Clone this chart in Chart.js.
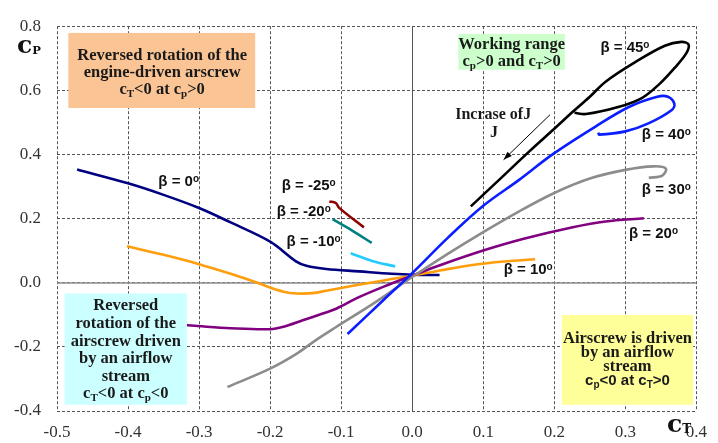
<!DOCTYPE html>
<html><head><meta charset="utf-8">
<script src="https://cdn.jsdelivr.net/npm/chart.js@4.4.0/dist/chart.umd.min.js"></script>
<style>html,body{margin:0;padding:0;background:#fff;overflow:hidden}</style>
</head><body>
<canvas id="c" width="718" height="443"></canvas>
<script>
// ---- axis ticks ----
const xTicks = [-0.5, -0.4, -0.3, -0.2, -0.1, 0.0, 0.1, 0.2, 0.3, 0.4];
const xTickLabels = ['-0.5','-0.4','-0.3','-0.2','-0.1','0.0','0.1','0.2','0.3','0.4'];
const yTicks = [-0.4, -0.2, 0.0, 0.2, 0.4, 0.6, 0.8];
const yTickLabels = ['-0.4','-0.2','0.0','0.2','0.4','0.6','0.8'];

// ---- series (cT = x, cP = y) ----
const ct_b45 = [0.0825, 0.12, 0.166, 0.2, 0.226, 0.25, 0.2722, 0.3139, 0.3556, 0.3788, 0.389, 0.3857, 0.3694, 0.3486, 0.3232, 0.29, 0.2444, 0.2284];
const cp_b45 = [0.238, 0.316, 0.412, 0.48, 0.533, 0.58, 0.627, 0.688, 0.739, 0.751, 0.743, 0.715, 0.670, 0.621, 0.576, 0.548, 0.526, 0.530];

const ct_b40 = [-0.091, -0.04, 0.0, 0.05, 0.1, 0.15, 0.198, 0.258, 0.305, 0.345, 0.36, 0.369, 0.365, 0.3325, 0.3, 0.263, 0.262];
const cp_b40 = [-0.16, -0.053, 0.03, 0.14, 0.24, 0.32, 0.401, 0.487, 0.548, 0.58, 0.58, 0.558, 0.538, 0.497, 0.472, 0.462, 0.468];

const ct_b30 = [-0.26, -0.2, -0.163, -0.135, -0.107, -0.05, 0.0, 0.05, 0.1, 0.15, 0.2, 0.25, 0.3, 0.34, 0.357, 0.352, 0.333];
const cp_b30 = [-0.325, -0.268, -0.222, -0.178, -0.138, -0.058, 0.018, 0.09, 0.158, 0.222, 0.28, 0.325, 0.352, 0.363, 0.356, 0.334, 0.327];

const ct_b20 = [-0.33, -0.3018, -0.2556, -0.2, -0.181, -0.154, -0.126, -0.107, -0.075, -0.04, 0.0, 0.041, 0.101, 0.157, 0.226, 0.272, 0.326];
const cp_b20 = [-0.130, -0.135, -0.142, -0.145, -0.137, -0.117, -0.096, -0.081, -0.045, -0.012, 0.022, 0.056, 0.101, 0.137, 0.173, 0.191, 0.201];

const ct_b10 = [-0.4015, -0.35, -0.3, -0.2556, -0.218, -0.2, -0.181, -0.163, -0.14, -0.121, -0.0796, -0.038, 0.0, 0.041, 0.087, 0.129, 0.173];
const cp_b10 = [0.1136, 0.087, 0.058, 0.028, 0.0, -0.015, -0.028, -0.0335, -0.0325, -0.025, -0.008, 0.008, 0.022, 0.039, 0.056, 0.066, 0.073];

const ct_b0 = [-0.4717, -0.4, -0.35, -0.3, -0.2556, -0.2, -0.163, -0.149, -0.121, -0.075, -0.0286, 0.0, 0.0385];
const cp_b0 = [0.353, 0.31, 0.274, 0.233, 0.188, 0.128, 0.066, 0.053, 0.043, 0.0355, 0.028, 0.025, 0.024];

const ct_bm10 = [-0.0865, -0.0564, -0.024];
const cp_bm10 = [0.092, 0.068, 0.051];

const ct_bm20 = [-0.112, -0.084, -0.057];
const cp_bm20 = [0.198, 0.162, 0.124];

const ct_bm25 = [-0.1167, -0.1075, -0.1028, -0.068];
const cp_bm25 = [0.2536, 0.2487, 0.2335, 0.1726];

const seriesNames = ['β = 45', 'β = 40', 'β = 30', 'β = 20', 'β = 10', 'β = 0', 'β = -10', 'β = -20', 'β = -25'];
const seriesX = [ct_b45, ct_b40, ct_b30, ct_b20, ct_b10, ct_b0, ct_bm10, ct_bm20, ct_bm25];
const seriesY = [cp_b45, cp_b40, cp_b30, cp_b20, cp_b10, cp_b0, cp_bm10, cp_bm20, cp_bm25];

// ---- styles ----
const seriesColors = ['#000000', '#0A1EFF', '#8C8C8C', '#800080', '#FF9E0D', '#000080', '#22CCFF', '#008080', '#8B0000'];
// label anchor (data coords, left edge / vertical centre)
const labelPos = [[0.2649, 0.7367], [0.3232, 0.4658], [0.3232, 0.2953], [0.3051, 0.1553], [0.1287, 0.0457],
                  [-0.3574, 0.3196], [-0.1768, 0.1309], [-0.1907, 0.2253], [-0.1838, 0.3075]];

const boxes = [
  {x1:-0.484, x2:-0.221, y1:0.779, y2:0.545, fill:'#FAC495', cx:-0.352,
   lines:['Reversed rotation of the','engine-driven arscrew','c_T<0 at c_p>0'], ys:[0.709,0.658,0.603]},
  {x1:0.0649, x2:0.2149, y1:0.776, y2:0.664, fill:'#CCFFCC', cx:0.140,
   lines:['Working range','c_p>0 and c_T>0'], ys:[0.746,0.691]},
  {x1:-0.4893, x2:-0.3171, y1:-0.0335, y2:-0.3805, fill:'#CCFFFF', cx:-0.4032,
   lines:['Reversed','rotation of the','airscrew driven','by an airflow','stream','c_T<0 at c_p<0'], ys:[-0.070,-0.126,-0.181,-0.236,-0.291,-0.344]},
  {x1:0.2107, x2:0.3954, y1:-0.1005, y2:-0.3805, fill:'#FFFF99', cx:0.303,
   lines:['Airscrew is driven','by an airflow','stream','c_p<0 at c_T>0'], ys:[-0.1735,-0.216,-0.259,-0.304]}
];

const SERIF = '"Liberation Serif", "DejaVu Serif", serif';
const SANS = '"Liberation Sans", Arial, sans-serif';

function parseRich(str){
  const segs = [];
  let buf = '';
  for (let i = 0; i < str.length; i++){
    const ch = str[i];
    if ((ch === '_' || ch === '^') && i + 1 < str.length){
      if (buf) { segs.push({t:buf, m:0}); buf=''; }
      segs.push({t:str[i+1], m: ch === '_' ? 1 : 2});
      i++;
    } else buf += ch;
  }
  if (buf) segs.push({t:buf, m:0});
  return segs;
}
function drawRich(ctx, str, x, yBase, align, mainFont, subFont, supFont, subDy, supDy){
  const segs = parseRich(str);
  let w = 0;
  segs.forEach(s => { ctx.font = s.m===0 ? mainFont : (s.m===1 ? subFont : supFont); s.w = ctx.measureText(s.t).width; w += s.w; });
  let sx = align === 'center' ? x - w/2 : x;
  ctx.textAlign = 'left';
  ctx.textBaseline = 'alphabetic';
  segs.forEach(s => {
    ctx.font = s.m===0 ? mainFont : (s.m===1 ? subFont : supFont);
    const dy = s.m===1 ? subDy : (s.m===2 ? supDy : 0);
    ctx.fillText(s.t, sx, yBase + dy);
    sx += s.w;
  });
}

const annotPlugin = {
  id: 'annot',
  beforeDatasetsDraw(chart){
    const {ctx, chartArea:a, scales:{x, y}} = chart;
    ctx.save();
    ctx.setLineDash([]);
    ctx.strokeStyle = '#8f8f8f'; ctx.lineWidth = 1.6;
    const y0 = Math.round(y.getPixelForValue(0)) + 0.0;
    ctx.beginPath(); ctx.moveTo(a.left, y0); ctx.lineTo(a.right, y0); ctx.stroke();
    ctx.strokeStyle = '#555'; ctx.lineWidth = 1;
    const x0 = Math.round(x.getPixelForValue(0)) + 0.5;
    ctx.beginPath(); ctx.moveTo(x0, a.top); ctx.lineTo(x0, a.bottom); ctx.stroke();
    ctx.restore();
  },
  afterDatasetsDraw(chart){
    const {ctx, scales:{x, y}} = chart;
    const px = v => x.getPixelForValue(v), py = v => y.getPixelForValue(v);
    ctx.save();
    // boxes
    boxes.forEach((b, bi) => {
      ctx.fillStyle = b.fill;
      ctx.fillRect(px(b.x1), py(b.y1), px(b.x2) - px(b.x1), py(b.y2) - py(b.y1));
      ctx.fillStyle = '#1a1a1a';
      b.lines.forEach((ln, i) => {
        const isSans = (bi === 3 && i === 3);
        const mf = isSans ? 'bold 15px ' + SANS : 'bold 16.5px ' + SERIF;
        const sf = isSans ? 'bold 10px ' + SANS : 'bold 11px ' + SERIF;
        drawRich(ctx, ln, px(b.cx), py(b.ys[i]) + 5, 'center', mf, sf, sf, 3, -6);
      });
    });
    // increase of J text
    ctx.fillStyle = '#1a1a1a';
    drawRich(ctx, 'Incrase ofJ', px(0.114), py(0.527) + 5, 'center', 'bold 16px ' + SERIF, '', '', 0, 0);
    drawRich(ctx, 'J', px(0.115), py(0.469) + 5, 'center', 'bold 16px ' + SERIF, '', '', 0, 0);
    // arrow
    const ax1 = px(0.194), ay1 = py(0.524), ax2 = px(0.1286), ay2 = py(0.3836);
    ctx.strokeStyle = '#000'; ctx.lineWidth = 1; ctx.setLineDash([]);
    ctx.beginPath(); ctx.moveTo(ax1, ay1); ctx.lineTo(ax2, ay2); ctx.stroke();
    const ang = Math.atan2(ay2 - ay1, ax2 - ax1);
    ctx.fillStyle = '#000';
    ctx.beginPath();
    ctx.moveTo(ax2, ay2);
    ctx.lineTo(ax2 - 9*Math.cos(ang - 0.35), ay2 - 9*Math.sin(ang - 0.35));
    ctx.lineTo(ax2 - 9*Math.cos(ang + 0.35), ay2 - 9*Math.sin(ang + 0.35));
    ctx.closePath(); ctx.fill();
    // beta labels
    ctx.fillStyle = '#111';
    seriesNames.forEach((n, i) => {
      drawRich(ctx, n + '^o', px(labelPos[i][0]), py(labelPos[i][1]) + 5.5, 'left',
               'bold 15px ' + SANS, 'bold 10px ' + SANS, 'bold 10px ' + SANS, 3, -4);
    });
    // axis titles
    ctx.fillStyle = '#111';
    drawRich(ctx, 'c_P', 17, 53, 'left', 'bold 25px "DejaVu Serif", serif', 'bold 11.5px "DejaVu Serif", serif', '', 1, 0);
    drawRich(ctx, 'c_T', 667, 432, 'left', 'bold 25px "DejaVu Serif", serif', 'bold 12px "DejaVu Serif", serif', '', 1, 0);
    ctx.restore();
  }
};

const datasets = seriesNames.map((n, i) => ({
  label: n,
  data: seriesX[i].map((v, j) => ({x: v, y: seriesY[i][j]})),
  showLine: true,
  borderColor: seriesColors[i],
  backgroundColor: seriesColors[i],
  borderWidth: 2.6,
  pointRadius: 0,
  tension: 0.35,
  fill: false
}));

new Chart(document.getElementById('c'), {
  type: 'scatter',
  data: { datasets },
  options: {
    responsive: false,
    animation: false,
    devicePixelRatio: 1,
    layout: { padding: { left: 0, right: 13, top: 17, bottom: 0 } },
    plugins: { legend: { display: false }, tooltip: { enabled: false } },
    scales: {
      x: {
        type: 'linear', min: -0.5, max: 0.4,
        afterBuildTicks: s => { s.ticks = xTicks.map(v => ({value: v})); },
        afterFit: s => { s.height = 32; },
        ticks: { autoSkip: false, maxRotation: 0, padding: 11, color: '#333',
                 font: { family: SERIF, size: 17 },
                 callback: (v, i) => xTickLabels[i] },
        grid: { color: '#555', lineWidth: 1, drawTicks: false },
        border: { display: false, dash: [3, 2] }
      },
      y: {
        type: 'linear', min: -0.4, max: 0.8,
        afterBuildTicks: s => { s.ticks = yTicks.map(v => ({value: v})); },
        afterFit: s => { s.width = 57; },
        ticks: { autoSkip: false, padding: 16, color: '#333',
                 font: { family: SERIF, size: 17 },
                 callback: (v, i) => yTickLabels[i] },
        grid: { color: '#555', lineWidth: 1, drawTicks: false },
        border: { display: false, dash: [3, 2] }
      }
    }
  },
  plugins: [annotPlugin]
});
</script>
</body></html>
